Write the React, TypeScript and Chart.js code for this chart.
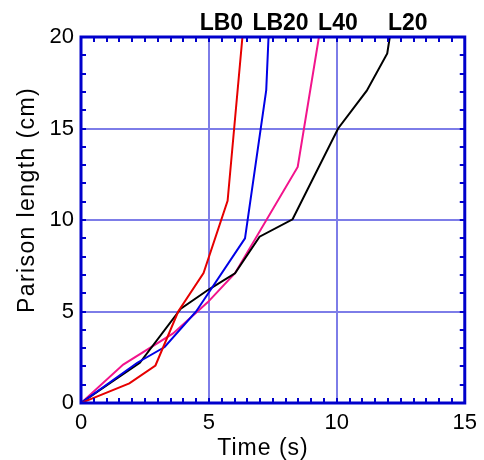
import React, { useEffect, useRef } from "react";
import { Chart, registerables } from "chart.js";
Chart.register(...registerables);

// ---- data ----
const seriesNames = ["LB0", "LB20", "L20", "L40"];
const seriesColors = ["#e60000", "#0000e6", "#000000", "#f2148c"];

const lb0Time = [0, 1.89, 2.91, 3.8, 4.79, 5.73, 6.31];
const lb0Length = [0, 1.07, 2.05, 5.0, 7.1, 11.05, 20];

const lb20Time = [0, 2.2, 3.27, 4.5, 6.41, 7.24, 7.33];
const lb20Length = [0, 2.2, 3.06, 5.0, 9.0, 17.1, 20];

const l20Time = [0, 1.2, 2.3, 3.9, 4.99, 6.02, 6.98, 8.27, 10.05, 11.17, 11.97, 12.07];
const l20Length = [0, 1.15, 2.2, 5.15, 6.2, 7.09, 9.09, 10.04, 15.0, 17.07, 19.1, 20];

const l40Time = [0, 1.65, 3.6, 4.95, 6.02, 8.47, 9.3];
const l40Length = [0, 2.1, 3.8, 5.5, 7.09, 12.9, 20];

const xTitle = "Time (s)";
const yTitle = "Parison length (cm)";

const xRange = [0, 15];
const yRange = [0, 20];

const seriesTimes = [lb0Time, lb20Time, l20Time, l40Time];
const seriesLengths = [lb0Length, lb20Length, l20Length, l40Length];

// label placement relative to each series' last point (pixels)
const labelOffsets = [-21, 12, 18, 19];

const FONT = "'Liberation Sans', Arial, Helvetica, sans-serif";

const decorPlugin = {
  id: "decor",
  afterDatasetsDraw(chart: any) {
    const { ctx, chartArea: a } = chart;
    const xs = chart.scales.x;
    const ys = chart.scales.y;
    ctx.save();
    ctx.strokeStyle = "#0000cc";
    ctx.lineWidth = 2;
    ctx.beginPath();
    for (let v = xRange[0]; v <= xRange[1] + 1e-9; v += 0.5) {
      const px = Math.round(xs.getPixelForValue(v));
      ctx.moveTo(px, a.bottom);
      ctx.lineTo(px, a.bottom - 5);
      ctx.moveTo(px, a.top);
      ctx.lineTo(px, a.top + 5);
    }
    for (let v = yRange[0]; v <= yRange[1] + 1e-9; v += 1) {
      const py = Math.round(ys.getPixelForValue(v));
      ctx.moveTo(a.left, py);
      ctx.lineTo(a.left + 5, py);
      ctx.moveTo(a.right, py);
      ctx.lineTo(a.right - 5, py);
    }
    ctx.stroke();
    ctx.lineWidth = 3;
    ctx.strokeRect(a.left, a.top, a.right - a.left, a.bottom - a.top);
    ctx.restore();
  },
  afterDraw(chart: any) {
    const { ctx } = chart;
    const xs = chart.scales.x;
    ctx.save();
    ctx.fillStyle = "#000";
    // series labels
    ctx.font = `bold 23px ${FONT}`;
    ctx.textAlign = "center";
    ctx.textBaseline = "alphabetic";
    seriesNames.forEach((name, i) => {
      const t = seriesTimes[i];
      const px = xs.getPixelForValue(t[t.length - 1]) + labelOffsets[i];
      ctx.fillText(name, px, 30);
    });
    // axis titles
    ctx.font = `23px ${FONT}`;
    (ctx as any).letterSpacing = "1px";
    ctx.fillText(xTitle, 263, 455);
    ctx.translate(34, 200);
    ctx.rotate(-Math.PI / 2);
    (ctx as any).letterSpacing = "1.4px";
    ctx.fillText(yTitle, 0, 0);
    ctx.restore();
  },
};

export default function App() {
  const ref = useRef<HTMLCanvasElement>(null);
  useEffect(() => {
    if (!ref.current) return;
    const datasets = seriesNames.map((name, i) => ({
      label: name,
      data: seriesTimes[i].map((t, k) => ({ x: t, y: seriesLengths[i][k] })),
      borderColor: seriesColors[i],
      backgroundColor: seriesColors[i],
      borderWidth: 2,
      pointRadius: 0,
      tension: 0,
      fill: false,
    }));
    const chart = new Chart(ref.current, {
      type: "line",
      data: { datasets },
      plugins: [decorPlugin],
      options: {
        responsive: false,
        animation: false,
        devicePixelRatio: 1,
        layout: { padding: { left: 0, top: 37, right: 15, bottom: 0 } },
        plugins: { legend: { display: false }, tooltip: { enabled: false } },
        scales: {
          x: {
            type: "linear",
            min: xRange[0],
            max: xRange[1],
            afterFit: (s: any) => {
              s.height = 57;
            },
            ticks: {
              stepSize: 5,
              padding: 7,
              color: "#000",
              font: { family: FONT, size: 22 },
              maxRotation: 0,
            },
            grid: { color: "rgba(125,125,232,1)", lineWidth: 2, drawTicks: false },
            border: { display: false },
          },
          y: {
            type: "linear",
            min: yRange[0],
            max: yRange[1],
            afterFit: (s: any) => {
              s.width = 81;
            },
            ticks: {
              stepSize: 5,
              padding: 7,
              color: "#000",
              font: { family: FONT, size: 22 },
            },
            grid: { color: "rgba(125,125,232,1)", lineWidth: 2, drawTicks: false },
            border: { display: false },
          },
        },
      } as any,
    });
    return () => chart.destroy();
  }, []);
  return (
    <div style={{ position: "absolute", left: 0, top: 0, width: 484, height: 460, background: "#fff" }}>
      <canvas ref={ref} width={484} height={460} />
    </div>
  );
}
